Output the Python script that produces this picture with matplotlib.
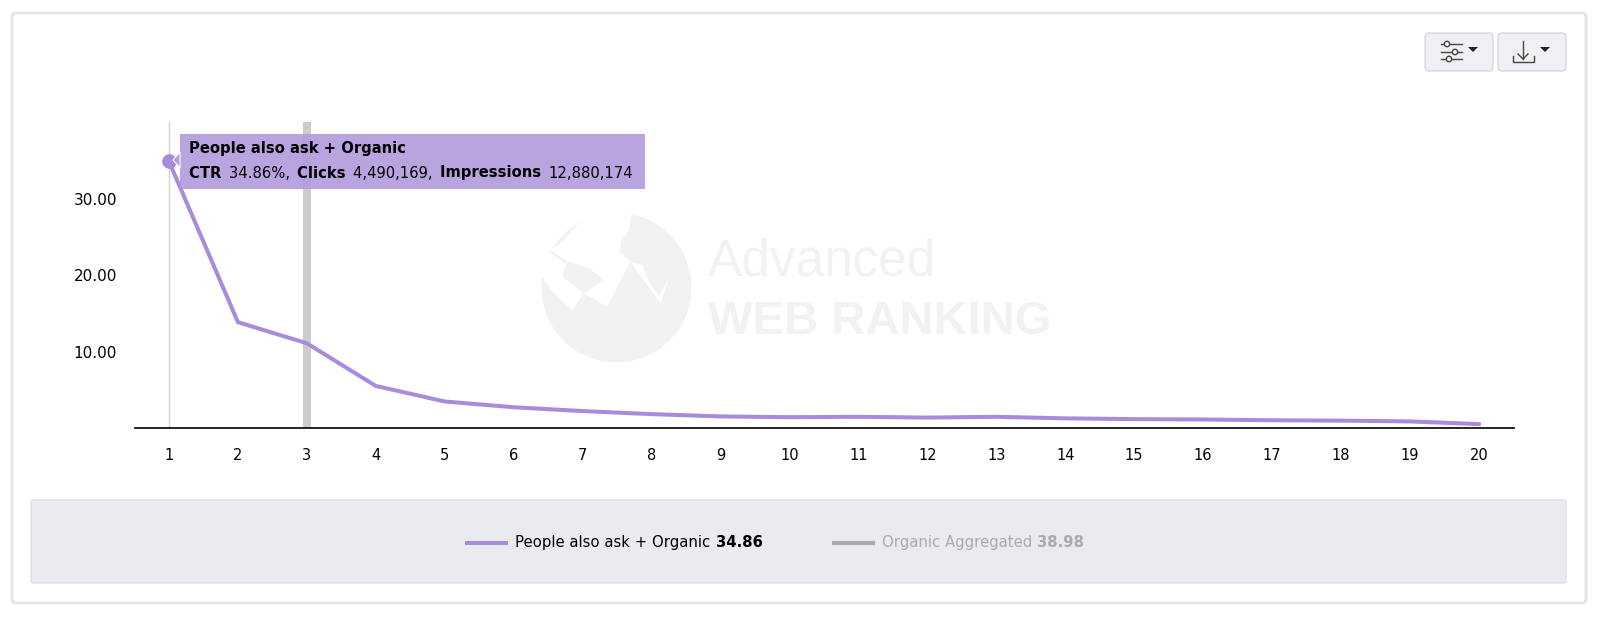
import matplotlib
matplotlib.use("Agg")
import matplotlib.pyplot as plt
from matplotlib.patches import Rectangle, FancyBboxPatch, Polygon, Circle

W, H = 1600, 617
positions = list(range(1, 21))
tick_labels = [str(p) for p in positions]
ctr_values = [34.86, 13.86, 11.1, 5.53, 3.5, 2.75, 2.25, 1.85, 1.55, 1.45,
              1.5, 1.4, 1.5, 1.3, 1.2, 1.15, 1.05, 1.0, 0.9, 0.55]
y_ticks = [10, 20, 30]
highlight_position = [3]
highlight_height = [40]
series_name = "People also ask + Organic"
other_name = "Organic Aggregated"
series_total = "34.86"
other_total = "38.98"

PURPLE = "#a98bdb"
FONT = "DejaVu Sans"

fig = plt.figure(figsize=(W / 100, H / 100), dpi=100, facecolor="white")

# page layer in pixel coordinates
bg = fig.add_axes([0, 0, 1, 1], zorder=0)
bg.set_xlim(0, W); bg.set_ylim(H, 0); bg.axis("off")
bg.add_patch(FancyBboxPatch((12, 13), 1574, 590, boxstyle="round,pad=0,rounding_size=4",
                            fc="white", ec="#e1e3e6", lw=2))
bg.add_patch(FancyBboxPatch((31, 500), 1535, 83, boxstyle="round,pad=0,rounding_size=2",
                            fc="#e9ebef", ec="#dde2e7", lw=1))

# watermark
WM = "#f1f2f4"
def zm(pts):
    return [(500 + x / 2.8, 190 + y / 3) for x, y in pts]
bg.add_patch(Circle((616.5, 287.5), 75, fc=WM, ec="none"))
for pts in [
    [(262, 60), (370, 60), (365, 95), (360, 125), (340, 150), (335, 185), (365, 215), (300, 350),
     (235, 310), (290, 270), (250, 235), (190, 215), (140, 180), (180, 150), (215, 105)],
    [(110, 245), (150, 310), (203, 360), (235, 310), (175, 260), (185, 225), (140, 185), (110, 190)],
    [(365, 215), (450, 340), (472, 265), (445, 320), (410, 260), (400, 225)],
]:
    bg.add_patch(Polygon(zm(pts), closed=True, fc="white", ec="none"))
bg.text(708, 276, "Advanced", family="Liberation Sans", fontsize=37, color=WM, va="baseline", ha="left")
bg.text(708, 334, "WEB RANKING", family="Liberation Sans", fontweight="bold", fontsize=34,
        color=WM, va="baseline", ha="left")

# buttons
for x0, w in [(1425, 68), (1498, 68)]:
    bg.add_patch(FancyBboxPatch((x0, 33), w, 38, boxstyle="round,pad=0,rounding_size=4",
                                fc="#eff0f3", ec="#d5d9de", lw=1))
for y, cx in [(44, 1447), (52, 1455), (59, 1449)]:
    bg.plot([1441, 1462], [y, y], color="#444444", lw=1)
    bg.add_patch(Circle((cx, y), 2.7, fc="#eff0f3", ec="#444444", lw=1, zorder=3))
for xc in (1473, 1545):
    bg.add_patch(Polygon([(xc - 5, 47), (xc + 5, 47), (xc, 52)], closed=True, fc="#222222", ec="none"))
bg.plot([1523, 1523], [41, 59], color="#444444", lw=1)
bg.plot([1518, 1523, 1528], [54, 59, 54], color="#444444", lw=1)
bg.plot([1513, 1513, 1534, 1534], [56, 62, 62, 56], color="#444444", lw=1)

# chart
L, R, T, B = 135, 1514, 122, 428.3
ax = fig.add_axes([L / W, 1 - B / H, (R - L) / W, (B - T) / H], zorder=1)
ax.patch.set_alpha(0)
ax.set_xlim(0.507, 20.51)
ax.set_ylim(0, 40)
for s in ("top", "left", "right"):
    ax.spines[s].set_visible(False)
ax.spines["bottom"].set_color("black")
ax.spines["bottom"].set_linewidth(1.2)
ax.bar(highlight_position, highlight_height, width=0.116, color="#cccccc", zorder=1)
ax.axvline(positions[0], color="#d4d4d4", lw=1, zorder=1)
ax.plot(positions, ctr_values, color=PURPLE, lw=2.9, solid_joinstyle="miter", zorder=3, clip_on=False)
ax.plot(positions[:1], ctr_values[:1], "o", color=PURPLE, ms=9.5, zorder=4, clip_on=False)
ax.set_xticks(positions, tick_labels)
ax.set_yticks(y_ticks, [f"{v:.2f}" for v in y_ticks])
ax.tick_params(axis="both", length=0, labelsize=11, labelcolor="black", labelfontfamily=FONT)
ax.tick_params(axis="x", labelsize=10.5, pad=14)
ax.tick_params(axis="y", pad=13)

# tooltip and legend layer
top = fig.add_axes([0, 0, 1, 1], zorder=2)
top.set_xlim(0, W); top.set_ylim(H, 0); top.axis("off")
top.add_patch(Rectangle((180, 134), 465, 55, fc="#b49cde", ec="none", alpha=0.92))
top.add_patch(Polygon([(173, 160), (180, 152), (180, 168)], closed=True, fc="#b49cde", ec="white", lw=0.8, zorder=5))

fig.canvas.draw()
rend = fig.canvas.get_renderer()
def run(x, y, parts, size=10, gap=0.0):
    for s, weight, color in parts:
        t = top.text(x, y, s, family=FONT, fontsize=size, fontweight=weight, color=color,
                     va="baseline", ha="left")
        x = t.get_window_extent(rend).x1 + gap
    return x

run(189, 153.5, [(series_name, "bold", "black")], size=10.65)
run(189, 177.5, [("CTR ", "bold", "black"), ("34.86%, ", "normal", "black"),
                 ("Clicks ", "bold", "black"), ("4,490,169, ", "normal", "black"),
                 ("Impressions ", "bold", "black"), ("12,880,174", "normal", "black")],
    size=10.65, gap=2.4)

top.plot([465, 508], [543, 543], color=PURPLE, lw=2.9, solid_capstyle="butt")
top.text(515, 547, series_name, family=FONT, fontsize=10.7, color="black", va="baseline")
top.text(716, 547, series_total, family=FONT, fontsize=10.7, fontweight="bold", color="black", va="baseline")
top.plot([832, 875], [543, 543], color="#aaaaaa", lw=2.9, solid_capstyle="butt")
top.text(882, 547, other_name, family=FONT, fontsize=10.7, color="#aaaaaa", va="baseline")
top.text(1037, 547, other_total, family=FONT, fontsize=10.7, fontweight="bold", color="#aaaaaa", va="baseline")

fig.savefig("out.png", dpi=100)
